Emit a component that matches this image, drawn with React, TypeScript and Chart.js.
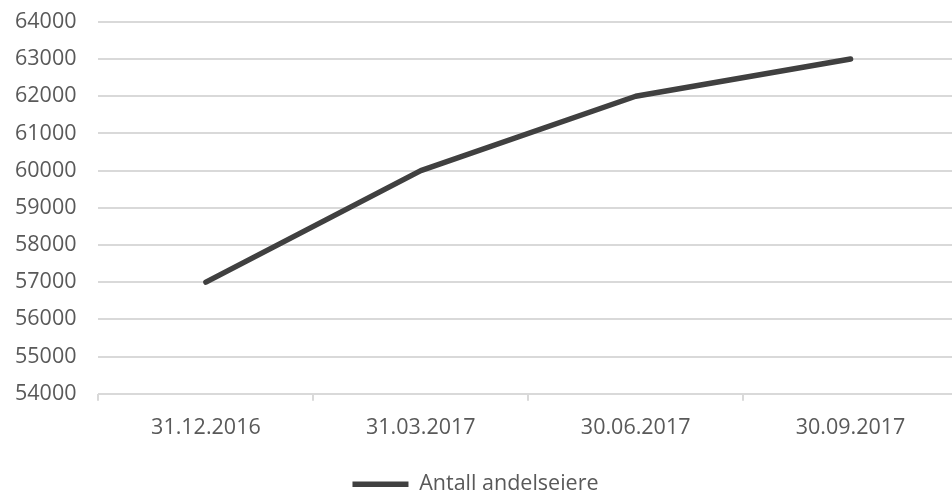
import React, { useEffect, useRef } from "react";
import { Chart, registerables } from "chart.js";

Chart.register(...registerables);

const categories = ["31.12.2016", "31.03.2017", "30.06.2017", "30.09.2017"];
const values = [57000, 60000, 62000, 63000];
const seriesName = "Antall andelseiere";
const yMin = 54000;
const yMax = 64000;
const yStep = 1000;

const FONT = "'Open Sans', sans-serif";
const TEXT = "#595959";
const GRID = "#d9d9d9";
const FS = 21.5;

export default function App() {
  const ref = useRef<HTMLCanvasElement | null>(null);
  useEffect(() => {
    document.body.style.margin = "0";
    const ctx = ref.current;
    if (!ctx) return;
    const chart = new Chart(ctx, {
      type: "line",
      data: {
        labels: categories,
        datasets: [
          {
            label: seriesName,
            data: values,
            borderColor: "#404040",
            backgroundColor: "#404040",
            borderWidth: 5.5,
            borderCapStyle: "round",
            borderJoinStyle: "round",
            pointRadius: 0,
            tension: 0,
          },
        ],
      },
      options: {
        responsive: false,
        animation: false,
        layout: { autoPadding: false, padding: { top: 0, right: 20, bottom: -13, left: -7 } },
        plugins: {
          tooltip: { enabled: false },
          legend: {
            position: "bottom",
            labels: {
              usePointStyle: true,
              pointStyle: "line",
              pointStyleWidth: 56,
              boxHeight: 5,
              color: TEXT,
              font: { family: FONT, size: FS },
              padding: 3,
            },
          },
        },
        scales: {
          x: {
            offset: true,
            border: { display: false },
            grid: {
              offset: true,
              drawOnChartArea: false,
              drawTicks: true,
              tickLength: 7,
              color: GRID,
              lineWidth: 2,
            },
            ticks: {
              color: TEXT,
              font: { family: FONT, size: FS },
              padding: 14,
              maxRotation: 0,
            },
            afterFit: (scale: any) => {
              scale.height += 16;
            },
          },
          y: {
            min: yMin,
            max: yMax,
            border: { display: false },
            grid: { color: GRID, lineWidth: 2, drawTicks: false },
            ticks: {
              stepSize: yStep,
              color: TEXT,
              font: { family: FONT, size: FS },
              padding: 22,
              callback: (v: any) => String(v),
            },
          },
        },
      },
    });
    return () => chart.destroy();
  }, []);
  return (
    <div style={{ width: 952, height: 492, overflow: "hidden", position: "relative" }}>
      <canvas
        ref={ref}
        width={978}
        height={505}
        style={{ width: 978, height: 505, display: "block", marginTop: -13 }}
      />
    </div>
  );
}
